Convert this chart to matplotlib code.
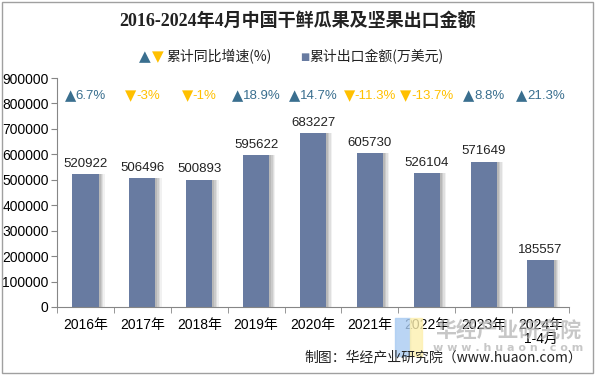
import matplotlib.pyplot as plt
import matplotlib.patches as mpatches
import numpy as np

# 数据
years = ['2016年', '2017年', '2018年', '2019年', '2020年', '2021年', '2022年', '2023年', '2024年\n1-4月']
amounts = [520922, 506496, 500893, 595622, 683227, 605730, 526104, 571649, 185557]
growth = [6.7, -3, -1, 18.9, 14.7, -11.3, -13.7, 8.8, 21.3]

bar_color = '#687BA1'
up_color = '#3A6F8F'
down_color = '#FFC000'
cjk = ['Noto Sans CJK SC', 'DejaVu Sans']
num = ['Liberation Sans', 'Noto Sans CJK SC', 'DejaVu Sans']

plt.rcParams['font.family'] = num

fig = plt.figure(figsize=(5.95, 3.75), dpi=100)
ax = fig.add_axes([57 / 595, 1 - 307 / 375, (569 - 57) / 595, (307 - 78) / 375])

x = np.arange(len(years))
# 阴影
for k, a in enumerate([0.12, 0.18, 0.25, 0.32]):
    ax.bar(x + 0.11 - 0.025 * k, amounts, width=0.46, color='#909090', alpha=a, linewidth=0, zorder=1)
ax.bar(x, amounts, width=0.46, color=bar_color, zorder=2)

for xi, v in zip(x, amounts):
    ax.annotate(str(v), (xi, v), xytext=(0, 3), textcoords='offset points',
                ha='center', va='bottom', fontsize=9.5, color='#222222')

fig.canvas.draw()
r = fig.canvas.get_renderer()
for xi, g in zip(x, growth):
    c = up_color if g >= 0 else down_color
    tri = '▲' if g >= 0 else '▼'
    t = ax.text(xi, 830000, f'{g:g}%', ha='left', va='center', fontsize=9.5, color=c)
    w = t.get_window_extent(r).width
    tw = 11
    start = -(w + tw) / 2
    t.set_position((xi, 830000))
    t.set_transform(ax.transData + plt.matplotlib.transforms.ScaledTranslation((start + tw) / 100, 0, fig.dpi_scale_trans))
    ax.text(xi, 830000, tri, ha='left', va='center', fontsize=10.5, color=c, family=['DejaVu Sans'],
            transform=ax.transData + plt.matplotlib.transforms.ScaledTranslation(start / 100, 0, fig.dpi_scale_trans))

ax.set_xlim(-0.5, len(years) - 0.5)
ax.set_ylim(0, 900000)
ax.set_yticks(np.arange(0, 900001, 100000))
ax.set_yticklabels([str(t) for t in range(0, 900001, 100000)], fontsize=10)
ax.set_xticks(x)
ax.set_xticklabels(years, fontsize=10, linespacing=1.0)
ax.set_xticks(np.arange(-0.5, len(years), 1), minor=True)
ax.tick_params(axis='x', which='major', length=0, pad=8)
ax.tick_params(axis='x', which='minor', length=4, color='#868686')
ax.tick_params(axis='y', length=4, color='#868686', pad=2)
for sp in ['top', 'right']:
    ax.spines[sp].set_visible(False)
for sp in ['left', 'bottom']:
    ax.spines[sp].set_color('#868686')

# 标题
fig.text(0.5, 1 - 22 / 375, '2016-2024年4月中国干鲜瓜果及坚果出口金额', ha='center', va='center',
         fontsize=13, fontweight='bold', family=['Liberation Serif', 'Noto Sans CJK SC'], color='#222222')

# 图例
fig.text(139 / 595, 1 - 57 / 375, '▲', color=up_color, fontsize=11, va='center', family=['DejaVu Sans'])
fig.text(152 / 595, 1 - 57 / 375, '▼', color=down_color, fontsize=11, va='center', family=['DejaVu Sans'])
fig.text(166 / 595, 1 - 57 / 375, '累计同比增速(%)', fontsize=10, va='center', family=cjk, color='#222222')
fig.text(300 / 595, 1 - 57 / 375, '■', color=bar_color, fontsize=7, va='center', family=['DejaVu Sans'])
fig.text(309 / 595, 1 - 57 / 375, '累计出口金额(万美元)', fontsize=10, va='center', family=cjk, color='#222222')

# 水印
fig.patches.append(mpatches.Rectangle((395 / 595, 1 - 356 / 375), 15 / 595, 38 / 375,
                                      transform=fig.transFigure, color='#a9cbf2', alpha=0.8, zorder=0))
fig.patches.append(mpatches.Rectangle((410 / 595, 1 - 356 / 375), 12 / 595, 38 / 375,
                                      transform=fig.transFigure, color='#fdf0b0', alpha=0.8, zorder=0))
fig.text(508 / 595, 1 - 330 / 375, '华经产业研究院', ha='center', va='center', fontsize=15,
         fontweight='bold', family=cjk, color='#b0b0b0', alpha=0.7)
fig.text(508 / 595, 1 - 348 / 375, 'w w w . h u a o n . c o m', ha='center', va='center', fontsize=8,
         fontweight='bold', family=['DejaVu Sans'], color='#b0b0b0', alpha=0.7)

# 来源
fig.text(582 / 595, 1 - 357 / 375, '制图：华经产业研究院（www.huaon.com）', ha='right', va='center',
         fontsize=10, family=cjk, color='#222222')

fig.patches.append(mpatches.Rectangle((2 / 595, 2 / 375), 591 / 595, 371 / 375, transform=fig.transFigure,
                                      fill=False, edgecolor='#a0a0a0', linewidth=1))

fig.savefig('out.png', dpi=100)
